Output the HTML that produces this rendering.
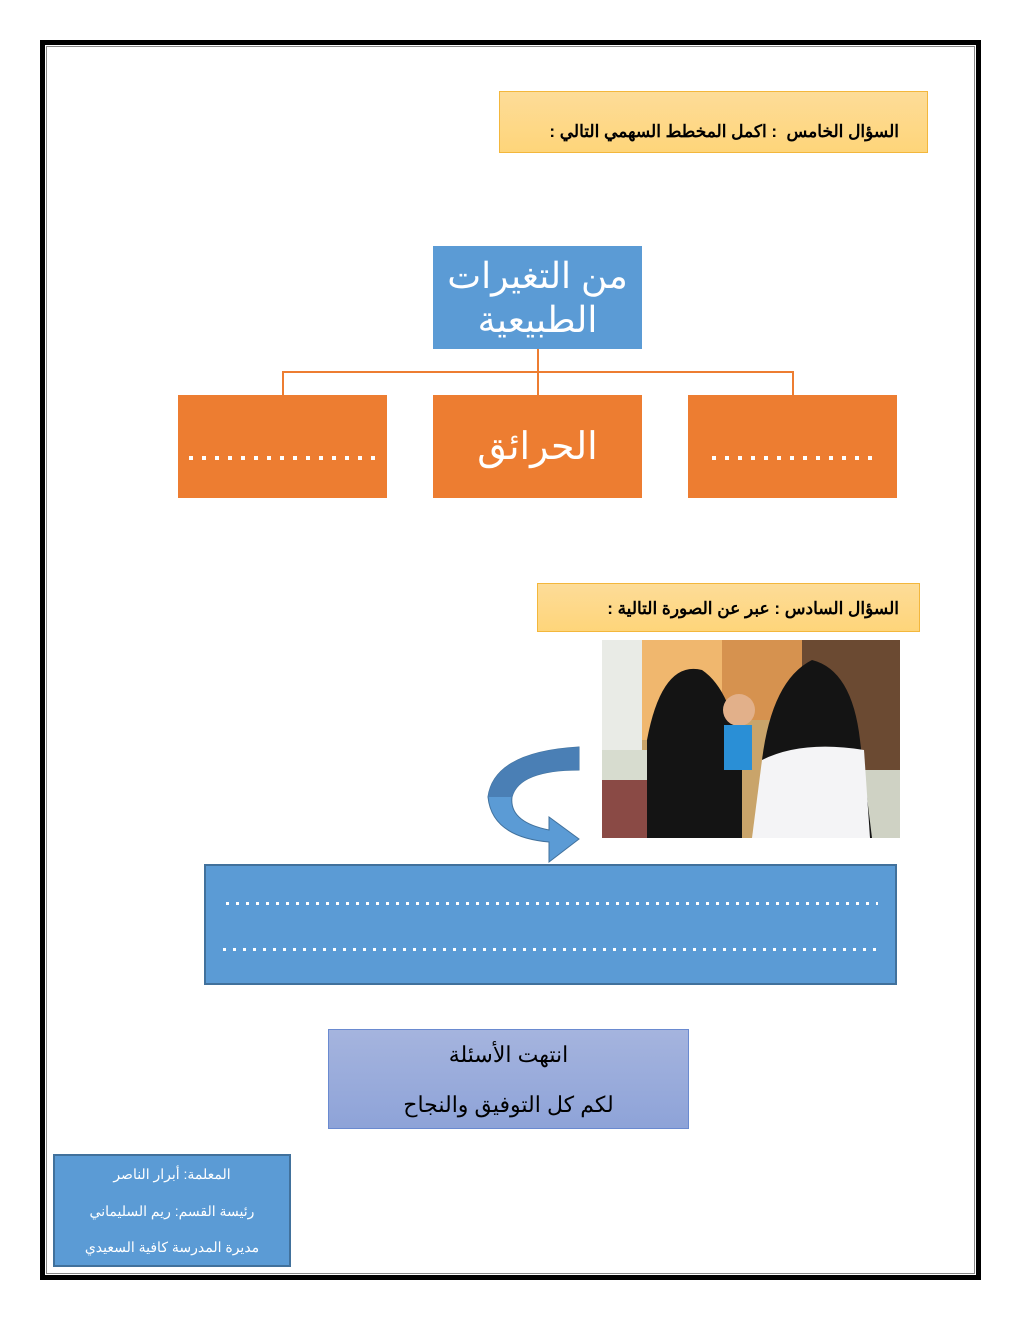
<!DOCTYPE html>
<html><head><meta charset="utf-8"><style>
body{margin:0;width:1020px;height:1320px;background:#fff;position:relative;overflow:hidden;font-family:"Liberation Sans","Noto Sans CJK SC",sans-serif}
.a{position:absolute;box-sizing:border-box}
.c{display:flex;align-items:center;justify-content:center;text-align:center;direction:rtl}
.dots{position:absolute;height:3px;background:repeating-linear-gradient(90deg,#fff 0 3px,transparent 3px 10px)}
.od{position:absolute;height:4px;background:repeating-linear-gradient(90deg,#fff 0 4px,transparent 4px 13px)}
</style></head><body>
<div class="a" style="left:40px;top:40px;width:941px;height:1240px;border:5px solid #000"></div>
<div class="a" style="left:46px;top:46px;width:929px;height:1228px;border:1px solid #888"></div>

<div class="a" style="left:499px;top:91px;width:429px;height:62px;background:linear-gradient(#fddc98,#fed57a);border:1px solid #f3b73c;direction:rtl;font-weight:bold;font-size:17px;padding:30px 28px 0 0;text-align:right">السؤال الخامس &nbsp;: اكمل المخطط السهمي التالي :</div>

<div class="a c" style="left:433px;top:246px;width:209px;height:103px;background:#5b9bd5;color:#fff;font-size:36px;line-height:44px">من التغيرات الطبيعية</div>
<div class="a" style="left:537px;top:349px;width:2px;height:46px;background:#ed7d31"></div>
<div class="a" style="left:282px;top:371px;width:512px;height:24px;border:2px solid #ed7d31;border-bottom:none"></div>
<div class="a" style="left:178px;top:395px;width:209px;height:103px;background:#ed7d31"></div>
<div class="od" style="left:189px;top:456px;width:190px"></div>
<div class="a c" style="left:433px;top:395px;width:209px;height:103px;background:#ed7d31;color:#fff;font-size:38px">الحرائق</div>
<div class="a" style="left:688px;top:395px;width:209px;height:103px;background:#ed7d31"></div>
<div class="od" style="left:712px;top:456px;width:164px"></div>

<div class="a" style="left:537px;top:583px;width:383px;height:49px;background:linear-gradient(#fddc98,#fed57a);border:1px solid #f3b73c;direction:rtl;font-weight:bold;font-size:17px;padding:15px 20px 0 0;text-align:right">السؤال السادس : عبر عن الصورة التالية :</div>

<svg class="a" style="left:602px;top:640px" width="298" height="198">
<rect width="298" height="198" fill="#c9a46a"/>
<rect x="0" y="0" width="40" height="120" fill="#e9ebe6"/>
<rect x="40" y="0" width="80" height="100" fill="#f0b76e"/>
<rect x="120" y="0" width="80" height="80" fill="#d6924f"/>
<rect x="200" y="0" width="98" height="130" fill="#6b4a32"/>
<rect x="0" y="110" width="60" height="90" fill="#d7dccf"/>
<rect x="0" y="140" width="60" height="58" fill="#8a4a45"/>
<rect x="200" y="130" width="98" height="68" fill="#cfd2c4"/>
<path d="M45 198 L45 100 Q60 20 100 30 Q130 50 140 120 L140 198Z" fill="#141414"/>
<path d="M175 198 L160 120 Q170 40 210 20 Q250 30 258 100 L270 198Z" fill="#141414"/>
<path d="M150 198 L160 120 Q200 100 262 110 L268 198Z" fill="#f4f4f6"/>
<circle cx="137" cy="70" r="16" fill="#e2b08a"/>
<rect x="122" y="85" width="28" height="45" fill="#2a8fd6"/>
</svg>

<svg class="a" style="left:484px;top:742px" width="100" height="125">
<path d="M95 5 Q10 10 4 55 Q8 95 65 100 L65 120 L95 97 L65 75 L65 88 Q25 80 28 55 Q35 28 95 28Z" fill="#5b9bd5" stroke="#41719c" stroke-width="1"/>
<path d="M95 5 Q10 10 4 55 L28 55 Q35 28 95 28Z" fill="#4a7fb5"/>
</svg>

<div class="a" style="left:204px;top:864px;width:693px;height:121px;background:#5b9bd5;border:2px solid #41719c"></div>
<div class="dots" style="left:226px;top:902px;width:652px"></div>
<div class="dots" style="left:223px;top:948px;width:656px"></div>

<div class="a" style="left:328px;top:1029px;width:361px;height:100px;background:linear-gradient(#a5b4de,#8ea3d8);border:1px solid #6a8ad0;direction:rtl;text-align:center;font-size:22px;line-height:50px">انتهت الأسئلة<br>لكم كل التوفيق والنجاح</div>

<div class="a" style="left:53px;top:1154px;width:238px;height:113px;background:#5b9bd5;border:2px solid #41719c;color:#fff;direction:rtl;text-align:center;font-size:14px;line-height:36.5px">المعلمة: أبرار الناصر<br>رئيسة القسم: ريم السليماني<br>مديرة المدرسة كافية السعيدي</div>
</body></html>
